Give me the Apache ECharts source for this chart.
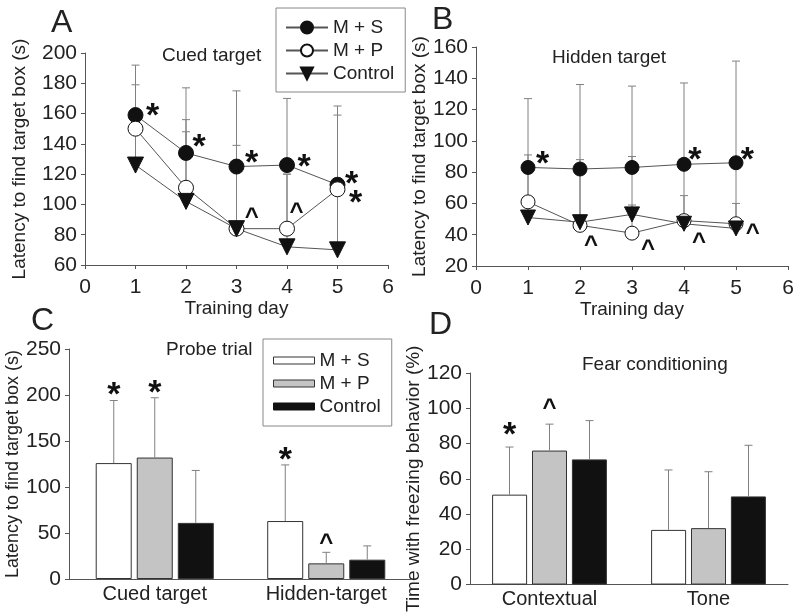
<!DOCTYPE html>
<html>
<head>
<meta charset="utf-8">
<script src="https://cdn.jsdelivr.net/npm/echarts@6/dist/echarts.min.js"></script>
<style>
html, body { margin: 0; padding: 0; background: #fff; }
#main { width: 800px; height: 614px; }
</style>
</head>
<body>
<div id="main"></div>
<script>
// ---- data -------------------------------------------------------------------
var days = [1, 2, 3, 4, 5];
var groupNames = ['M + S', 'M + P', 'Control'];

// A: cued target (latency, s) and upper error bar ends
var cuedMS = [159, 134, 125, 126, 113];
var cuedMP = [150, 111, 84, 84, 110];
var cuedCtrl = [126, 102, 84, 72, 70];
var cuedMSTop = [192, 177, 175, 170, 165];
var cuedMPTop = [179, 156, 139, 120, 159];
var cuedCtrlTop = [158, 148, 124, 120, 108];
// significance marks in A: [day position, latency, text]
var cuedMarks = [[1.34, 163.5, '*'], [2.26, 142.5, '*'], [3.30, 132, '*'], [4.34, 129.8, '*'],
                 [5.28, 118.3, '*'], [5.36, 105.6, '*'], [3.30, 94.1, '^'], [4.19, 97.4, '^']];

// B: hidden target
var hidMS = [83, 82, 83, 85, 86];
var hidMP = [61, 46, 41, 49, 47];
var hidCtrl = [51, 48, 53, 47, 44];
var hidMSTop = [127, 136, 135, 137, 151];
var hidMPTop = [91, 88, 90, 65, 60];
var hidCtrlTop = [82, 81, 59, 84, 86];
var hidMarks = [[1.28, 89.9, '*'], [4.21, 92.4, '*'], [5.22, 92.4, '*'],
                [2.21, 35.5, '^'], [3.31, 33.4, '^'], [4.29, 37.7, '^'], [5.32, 43.4, '^']];

// C: probe trial
var probeCats = ['Cued target', 'Hidden-target'];
var probeMS = [126, 63];
var probeMP = [132, 17];
var probeCtrl = [61, 21];
var probeMSTop = [194, 124];
var probeMPTop = [197, 29];
var probeCtrlTop = [118, 36];
var probeMSMark = ['*', '*'];
var probeMPMark = ['*', '^'];
var probeCtrlMark = ['', ''];

// D: fear conditioning (% time freezing)
var fearCats = ['Contextual', 'Tone'];
var fearMS = [51, 31];
var fearMP = [76, 32];
var fearCtrl = [71, 50];
var fearMSTop = [78, 65];
var fearMPTop = [91, 64];
var fearCtrlTop = [93, 79];
var fearMSMark = ['*', ''];
var fearMPMark = ['^', ''];
var fearCtrlMark = ['', ''];

// ---- helpers ----------------------------------------------------------------
var FONT = 'Liberation Sans';
var TXT = '#222';
var AX = '#555';
var ERR = '#808080';
var STAR = 34, CARET = 24;

function pairs(xs, ys) {
    return xs.map(function (x, i) { return [x, ys[i]]; });
}

function markFont(t) {
    return 'bold ' + (t === '*' ? STAR : CARET) + 'px "Liberation Sans"';
}

// vertical error bar from value up to top, with a small cap
function lineErr(g, vals, tops) {
    return {
        type: 'custom', name: 'err', xAxisIndex: g, yAxisIndex: g, z: 1, silent: true,
        data: days.map(function (d, i) { return [d, vals[i], tops[i]]; }),
        encode: {x: 0, y: [1, 2]},
        renderItem: function (params, api) {
            var p0 = api.coord([api.value(0), api.value(1)]);
            var p1 = api.coord([api.value(0), api.value(2)]);
            return {type: 'group', children: [
                {type: 'line', shape: {x1: p0[0], y1: p0[1], x2: p1[0], y2: p1[1]}, style: {stroke: ERR, lineWidth: 1}},
                {type: 'line', shape: {x1: p1[0] - 4, y1: p1[1], x2: p1[0] + 4, y2: p1[1]}, style: {stroke: ERR, lineWidth: 1}}
            ]};
        }
    };
}

function barErr(g, vals, tops, marks, slot, barW, lift) {
    return {
        type: 'custom', name: 'err', xAxisIndex: g, yAxisIndex: g, z: 3, silent: true,
        data: vals.map(function (v, i) { return [i, v, tops[i]]; }),
        encode: {x: 0, y: [1, 2]},
        renderItem: function (params, api) {
            var off = (slot - 1) * (barW + 5);
            var p0 = api.coord([api.value(0), api.value(1)]);
            var p1 = api.coord([api.value(0), api.value(2)]);
            var x = p0[0] + off;
            var m = marks[params.dataIndex];
            var kids = [
                {type: 'line', shape: {x1: x, y1: p0[1], x2: x, y2: p1[1]}, style: {stroke: ERR, lineWidth: 1}},
                {type: 'line', shape: {x1: x - 4, y1: p1[1], x2: x + 4, y2: p1[1]}, style: {stroke: ERR, lineWidth: 1}}
            ];
            if (m) {
                kids.push({type: 'text', style: {text: m, x: x, y: p1[1] - lift + (m === '*' ? 8 : 4),
                    align: 'center', verticalAlign: 'middle', font: markFont(m), fill: '#111'}});
            }
            return {type: 'group', children: kids};
        }
    };
}

// text marks (* and ^) placed in data units on the line panels
function markLabelSeries(g, marks, sym) {
    var sub = marks.filter(function (m) { return m[2] === sym; });
    return {
        type: 'scatter', name: 'marks', xAxisIndex: g, yAxisIndex: g, z: 5, silent: true,
        symbolSize: 1, itemStyle: {color: 'rgba(0,0,0,0)', opacity: 1},
        data: sub.map(function (m) { return [m[0], m[1]]; }),
        label: {
            show: true, position: 'inside', formatter: sym,
            color: '#111', fontFamily: FONT,
            fontSize: sym === '*' ? STAR : CARET,
            fontWeight: 'bold',
            offset: [0, sym === '*' ? 8 : 4]
        },
        emphasis: {disabled: true}
    };
}

function valueX(g, name) {
    return {
        type: 'value', gridIndex: g, min: 0, max: 6, interval: 1,
        name: name, nameLocation: 'middle', nameGap: 27,
        nameTextStyle: {fontFamily: FONT, fontSize: 19, color: TXT},
        axisLine: {lineStyle: {color: AX}},
        axisTick: {show: true, length: 4, lineStyle: {color: AX}},
        axisLabel: {fontFamily: FONT, fontSize: 21, color: TXT, margin: 12},
        splitLine: {show: false}
    };
}

function valueY(g, min, max, step, name, gap, fs) {
    return {
        type: 'value', gridIndex: g, min: min, max: max, interval: step,
        name: name, nameLocation: 'middle', nameGap: gap,
        nameTextStyle: {fontFamily: FONT, fontSize: fs, color: TXT},
        axisLine: {show: true, lineStyle: {color: AX}},
        axisTick: {show: true, length: 4, lineStyle: {color: AX}},
        axisLabel: {fontFamily: FONT, fontSize: 21, color: TXT, margin: 8},
        splitLine: {show: false}
    };
}

function catX(g, cats) {
    return {
        type: 'category', gridIndex: g, data: cats,
        axisLine: {lineStyle: {color: AX}},
        axisTick: {show: false},
        axisLabel: {fontFamily: FONT, fontSize: 20, color: TXT, margin: 5},
        splitLine: {show: false}
    };
}

function lineSeries(g, name, vals, sym, fill, size) {
    return {
        type: 'line', name: name, xAxisIndex: g, yAxisIndex: g, z: 4,
        data: pairs(days, vals),
        symbol: sym, symbolSize: size, symbolRotate: sym === 'triangle' ? 180 : 0,
        lineStyle: {color: '#555', width: 1},
        itemStyle: {color: fill, borderColor: '#111', borderWidth: 1},
        emphasis: {disabled: true}
    };
}

function barSeries(g, name, vals, fill, w) {
    return {
        type: 'bar', name: name, xAxisIndex: g, yAxisIndex: g, z: 2,
        data: vals, barWidth: w, barGap: '14%',
        itemStyle: {color: fill, borderColor: '#333', borderWidth: 1},
        emphasis: {disabled: true}
    };
}

var yName = 'Latency to find target box (s)';
var titleStyle = {fontFamily: FONT, fontSize: 19, fontWeight: 'normal', color: TXT};
var letterStyle = {fontFamily: FONT, fontSize: 32, fontWeight: 'normal', color: TXT};

var chart = echarts.init(document.getElementById('main'));
chart.setOption({
    animation: false,
    backgroundColor: '#fff',
    textStyle: {fontFamily: FONT},
    title: [
        {text: 'A', left: 51, top: 7, padding: 0, textStyle: letterStyle},
        {text: 'Cued target', left: 162, top: 46, padding: 0, textStyle: titleStyle},
        {text: 'B', left: 432, top: 4, padding: 0, textStyle: letterStyle},
        {text: 'Hidden target', left: 552, top: 48, padding: 0, textStyle: titleStyle},
        {text: 'C', left: 31, top: 305, padding: 0, textStyle: letterStyle},
        {text: 'Probe trial', left: 166, top: 340, padding: 0, textStyle: titleStyle},
        {text: 'D', left: 429, top: 309, padding: 0, textStyle: letterStyle},
        {text: 'Fear conditioning', left: 582, top: 355, padding: 0, textStyle: titleStyle}
    ],
    legend: [
        {
            orient: 'vertical', left: 276, top: 8, padding: [10, 11, 9, 9],
            itemWidth: 42, itemHeight: 15, itemGap: 4, itemTextGap: 10,
            borderColor: '#888', borderWidth: 1, backgroundColor: '#fff',
            textStyle: {fontFamily: FONT, fontSize: 19, color: TXT},
            data: groupNames
        },
        {
            orient: 'vertical', left: 263, top: 339, padding: [12, 11, 10, 10],
            itemWidth: 41, itemHeight: 7, itemGap: 4, itemTextGap: 11,
            borderColor: '#888', borderWidth: 1, backgroundColor: '#fff',
            textStyle: {fontFamily: FONT, fontSize: 19, color: TXT},
            data: [
                {name: 'M + S', icon: 'rect', itemStyle: {color: '#fff', borderColor: '#333', borderWidth: 1}},
                {name: 'M + P', icon: 'rect', itemStyle: {color: '#c4c4c4', borderColor: '#333', borderWidth: 1}},
                {name: 'Control', icon: 'rect', itemStyle: {color: '#111', borderColor: '#111', borderWidth: 1}}
            ]
        }
    ],
    grid: [
        {left: 85, top: 53, width: 303, height: 212},
        {left: 476, top: 47, width: 312, height: 219},
        {left: 69, top: 349, width: 343, height: 230},
        {left: 470, top: 373, width: 318, height: 214}
    ],
    xAxis: [
        valueX(0, 'Training day'),
        valueX(1, 'Training day'),
        catX(2, probeCats),
        catX(3, fearCats)
    ],
    yAxis: [
        valueY(0, 60, 200, 20, yName, 56, 19),
        valueY(1, 20, 160, 20, yName, 41, 19),
        valueY(2, 0, 250, 50, yName, 42, 18),
        valueY(3, 0, 120, 20, 'Time with freezing behavior (%)', 41, 19)
    ],
    series: [
        lineErr(0, cuedMS, cuedMSTop),
        lineErr(0, cuedMP, cuedMPTop),
        lineErr(0, cuedCtrl, cuedCtrlTop),
        lineSeries(0, 'M + S', cuedMS, 'circle', '#111', 15),
        lineSeries(0, 'M + P', cuedMP, 'circle', '#fff', 15),
        lineSeries(0, 'Control', cuedCtrl, 'triangle', '#111', 16),
        markLabelSeries(0, cuedMarks, '*'),
        markLabelSeries(0, cuedMarks, '^'),

        lineErr(1, hidMS, hidMSTop),
        lineErr(1, hidMP, hidMPTop),
        lineErr(1, hidCtrl, hidCtrlTop),
        lineSeries(1, 'M + S', hidMS, 'circle', '#111', 14),
        lineSeries(1, 'M + P', hidMP, 'circle', '#fff', 14),
        lineSeries(1, 'Control', hidCtrl, 'triangle', '#111', 15),
        markLabelSeries(1, hidMarks, '*'),
        markLabelSeries(1, hidMarks, '^'),

        barSeries(2, 'M + S', probeMS, '#fff', 36),
        barSeries(2, 'M + P', probeMP, '#c4c4c4', 36),
        barSeries(2, 'Control', probeCtrl, '#111', 36),
        barErr(2, probeMS, probeMSTop, probeMSMark, 0, 36, 12.5),
        barErr(2, probeMP, probeMPTop, probeMPMark, 1, 36, 12.5),
        barErr(2, probeCtrl, probeCtrlTop, probeCtrlMark, 2, 36, 12.5),

        barSeries(3, 'M + S', fearMS, '#fff', 35),
        barSeries(3, 'M + P', fearMP, '#c4c4c4', 35),
        barSeries(3, 'Control', fearCtrl, '#111', 35),
        barErr(3, fearMS, fearMSTop, fearMSMark, 0, 35, 19.5),
        barErr(3, fearMP, fearMPTop, fearMPMark, 1, 35, 19.5),
        barErr(3, fearCtrl, fearCtrlTop, fearCtrlMark, 2, 35, 19.5)
    ]
});
</script>
</body>
</html>
